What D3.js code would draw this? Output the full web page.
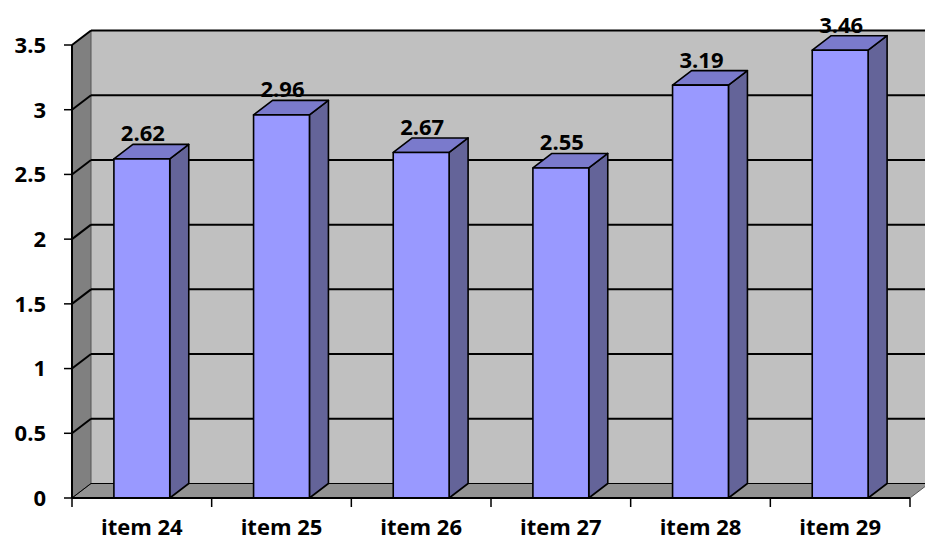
<!DOCTYPE html>
<html lang="en">
<head>
    <meta charset="UTF-8">
    <title>Items</title>
    <script src="https://cdn.jsdelivr.net/npm/d3@7"></script>
    <style>
        html, body {
            margin: 0;
            padding: 0;
            background: #fff;
            overflow: hidden;
        }
        text {
            font-family: 'Open Sans', sans-serif;
            font-weight: bold;
            fill: #000;
        }
    </style>
</head>
<body>
</body>
<script>
    const items = ['item 24', 'item 25', 'item 26', 'item 27', 'item 28', 'item 29'];
    const scores = [2.62, 2.96, 2.67, 2.55, 3.19, 3.46];
    const yTicks = [0, 0.5, 1, 1.5, 2, 2.5, 3, 3.5];

    const width = 925, height = 542;
    const plotLeft = 72, plotRight = 910, plotBottom = 498, plotTop = 45;
    // depth of the 3d box
    const dx = 19, dy = -14.5;
    const fontSize = 22;

    const svg = d3.select('body').append('svg')
        .attr('width', width)
        .attr('height', height);

    const x = d3.scaleBand()
        .domain(items)
        .range([plotLeft, plotRight])
        .paddingInner(0.6)
        .paddingOuter(0.3);

    const y = d3.scaleLinear()
        .domain([0, 3.5])
        .range([plotBottom, plotTop]);

    const pts = p => p.map(d => d.join(',')).join(' ');

    // back wall
    svg.append('rect')
        .attr('x', plotLeft + dx)
        .attr('y', y(3.5) + dy)
        .attr('width', width)
        .attr('height', y(0) - y(3.5))
        .attr('fill', '#c0c0c0');

    // side wall
    svg.append('polygon')
        .attr('points', pts([[plotLeft, y(0)], [plotLeft, y(3.5)], [plotLeft + dx, y(3.5) + dy], [plotLeft + dx, y(0) + dy]]))
        .attr('fill', '#808080')
        .attr('stroke', '#555')
        .attr('stroke-width', 1);

    // floor
    svg.append('polygon')
        .attr('points', pts([[plotLeft, y(0)], [plotRight, y(0)], [plotRight + dx, y(0) + dy], [plotLeft + dx, y(0) + dy]]))
        .attr('fill', '#939393')
        .attr('stroke', '#555')
        .attr('stroke-width', 1);

    // gridlines on back and side walls
    const grid = svg.append('g');
    yTicks.forEach(t => {
        grid.append('line')
            .attr('x1', plotLeft + dx).attr('x2', width)
            .attr('y1', y(t) + dy).attr('y2', y(t) + dy)
            .attr('stroke', '#000').attr('stroke-width', t === 0 ? 1 : 2);
        grid.append('line')
            .attr('x1', plotLeft).attr('x2', plotLeft + dx)
            .attr('y1', y(t)).attr('y2', y(t) + dy)
            .attr('stroke', '#000').attr('stroke-width', t === 0 ? 1 : 2);
    });

    // bars
    const bar = svg.append('g')
        .selectAll('g')
        .data(items).enter()
        .append('g');

    bar.each(function (d, i) {
        const g = d3.select(this);
        const x0 = x(d), x1 = x(d) + x.bandwidth();
        const yt = y(scores[i]), yb = y(0);
        // side
        g.append('polygon')
            .attr('points', pts([[x1, yb], [x1, yt], [x1 + dx, yt + dy], [x1 + dx, yb + dy]]))
            .attr('fill', '#646499');
        // top
        g.append('polygon')
            .attr('points', pts([[x0, yt], [x1, yt], [x1 + dx, yt + dy], [x0 + dx, yt + dy]]))
            .attr('fill', '#7a7acc');
        // front
        g.append('rect')
            .attr('x', x0).attr('y', yt)
            .attr('width', x1 - x0).attr('height', yb - yt)
            .attr('fill', '#9999ff');
        g.selectAll('polygon, rect')
            .attr('stroke', '#000')
            .attr('stroke-width', 1.6)
            .attr('stroke-linejoin', 'round');

        g.append('text')
            .attr('x', (x0 + x1) / 2 + 1)
            .attr('y', yt + dy - 3)
            .attr('text-anchor', 'middle')
            .attr('font-size', fontSize)
            .text(scores[i].toFixed(2));
    });

    // axes
    const yAxis = svg.append('g');
    yAxis.append('line')
        .attr('x1', plotLeft).attr('x2', plotLeft)
        .attr('y1', y(0)).attr('y2', y(3.5))
        .attr('stroke', '#000').attr('stroke-width', 2);
    yAxis.selectAll('.tick')
        .data(yTicks).enter()
        .append('line')
        .attr('x1', plotLeft - 8).attr('x2', plotLeft)
        .attr('y1', d => y(d)).attr('y2', d => y(d))
        .attr('stroke', '#000').attr('stroke-width', 1.5);
    yAxis.selectAll('text')
        .data(yTicks).enter()
        .append('text')
        .attr('x', 46)
        .attr('y', d => y(d))
        .attr('dy', '0.36em')
        .attr('text-anchor', 'end')
        .attr('font-size', fontSize)
        .text(d => d);

    const xAxis = svg.append('g');
    xAxis.append('line')
        .attr('x1', plotLeft).attr('x2', plotRight)
        .attr('y1', y(0)).attr('y2', y(0))
        .attr('stroke', '#000').attr('stroke-width', 2);
    const bounds = items.map(d => x(d) - x.step() * x.paddingInner() / 2).concat([plotRight]);
    xAxis.selectAll('.tick')
        .data(bounds).enter()
        .append('line')
        .attr('x1', d => d).attr('x2', d => d)
        .attr('y1', y(0)).attr('y2', y(0) + 9)
        .attr('stroke', '#000').attr('stroke-width', 1.5);
    xAxis.selectAll('text')
        .data(items).enter()
        .append('text')
        .attr('x', d => x(d) + x.bandwidth() / 2)
        .attr('y', 535)
        .attr('text-anchor', 'middle')
        .attr('font-size', fontSize)
        .text(d => d);
</script>
</html>
